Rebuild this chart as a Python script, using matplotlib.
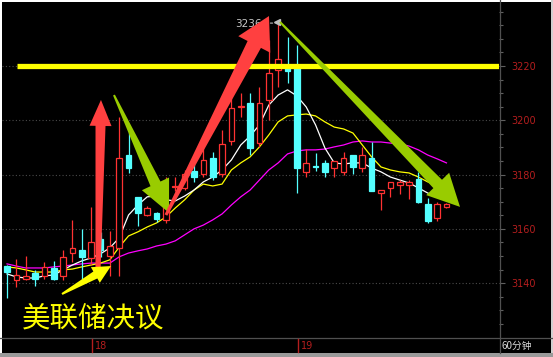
import numpy as np
import matplotlib
matplotlib.use("Agg")
import matplotlib.pyplot as plt
from matplotlib.patches import Polygon, Rectangle
from matplotlib.transforms import IdentityTransform, blended_transform_factory, ScaledTranslation

# ---------------- data ----------------
opens = [3146.3, 3141.2, 3141.5, 3143.8, 3142.6, 3145.6, 3142.6, 3151.1, 3152.2, 3149.3,
         3156.3, 3150.0, 3153.0, 3187.2, 3171.8, 3165.2, 3165.9, 3163.3, 3175.4, 3175.1,
         3181.3, 3180.2, 3186.1, 3180.2, 3192.4, 3205.0, 3206.4, 3191.6, 3207.5, 3218.5,
         3219.3, 3219.3, 3181.0, 3183.2, 3184.3, 3182.4, 3181.0, 3187.2, 3182.4, 3186.1,
         3173.2, 3175.1, 3176.2, 3176.2, 3178.4, 3169.2, 3164.0, 3168.1]
closes = [3144.2, 3143.0, 3142.6, 3141.5, 3146.0, 3141.5, 3149.7, 3153.0, 3149.7, 3155.2,
          3152.2, 3153.7, 3186.1, 3182.4, 3165.9, 3167.7, 3163.7, 3168.8, 3175.8, 3180.2,
          3179.1, 3185.4, 3179.1, 3191.3, 3204.5, 3205.3, 3189.8, 3206.4, 3217.4, 3222.6,
          3218.2, 3182.4, 3184.3, 3182.8, 3181.0, 3185.0, 3186.1, 3182.8, 3187.2, 3173.9,
          3174.3, 3177.3, 3177.3, 3177.3, 3169.9, 3162.9, 3169.2, 3169.2]
highs = [3146.6, 3148.9, 3150.0, 3144.9, 3147.8, 3148.2, 3152.2, 3163.3, 3160.0, 3168.1,
         3158.9, 3159.2, 3201.2, 3195.7, 3171.8, 3168.4, 3166.2, 3179.1, 3179.1, 3181.7,
         3183.9, 3190.2, 3188.3, 3196.4, 3208.6, 3210.1, 3210.1, 3212.3, 3229.6, 3236.2,
         3230.7, 3227.7, 3189.4, 3187.9, 3185.4, 3185.0, 3188.3, 3187.2, 3190.2, 3192.0,
         3174.3, 3177.3, 3178.0, 3178.0, 3181.0, 3171.4, 3169.9, 3169.5]
lows = [3134.5, 3138.6, 3141.2, 3139.0, 3141.5, 3141.2, 3141.2, 3147.8, 3140.4, 3146.7,
        3149.7, 3142.6, 3142.6, 3180.6, 3161.1, 3164.8, 3162.5, 3162.2, 3173.9, 3174.3,
        3177.3, 3179.1, 3178.0, 3179.1, 3190.9, 3201.2, 3187.2, 3190.2, 3200.1, 3212.3,
        3213.7, 3173.2, 3179.1, 3181.3, 3179.1, 3179.1, 3179.9, 3180.2, 3181.0, 3173.9,
        3166.9, 3171.8, 3172.9, 3171.0, 3169.5, 3162.2, 3162.9, 3167.7]

ma_white = [3143.4, 3142.3, 3141.9, 3141.9, 3142.7, 3143.0, 3144.9, 3146.7, 3148.2, 3149.3,
            3150.8, 3153.0, 3156.7, 3165.1, 3168.8, 3171.8, 3172.1, 3170.7, 3170.3, 3172.1,
            3174.3, 3177.3, 3179.1, 3181.7, 3185.4, 3190.9, 3194.2, 3198.3, 3205.6, 3209.3,
            3211.2, 3209.0, 3204.9, 3198.3, 3189.8, 3184.3, 3183.9, 3184.3, 3184.3, 3182.4,
            3181.0, 3179.1, 3178.0, 3176.9, 3175.1, 3173.2, 3171.8, 3170.7]
ma_yellow = [3146.0, 3145.6, 3144.9, 3144.1, 3144.1, 3144.1, 3144.9, 3145.2, 3146.0, 3146.7,
             3147.4, 3148.6, 3153.3, 3157.4, 3158.9, 3160.7, 3162.2, 3164.4, 3167.7, 3170.7,
             3174.3, 3176.5, 3175.8, 3176.5, 3181.7, 3184.3, 3186.5, 3190.2, 3194.6, 3199.4,
             3201.6, 3202.0, 3202.3, 3201.6, 3199.4, 3197.5, 3196.8, 3195.3, 3190.9, 3186.5,
             3182.8, 3181.7, 3181.0, 3180.6, 3179.1, 3177.3, 3175.8, 3175.1]
ma_magenta = [3147.1, 3146.3, 3145.6, 3145.6, 3145.6, 3146.0, 3146.3, 3146.7, 3147.1, 3147.4,
              3147.4, 3147.4, 3149.7, 3151.1, 3151.9, 3152.6, 3153.7, 3154.4, 3155.6, 3157.8,
              3160.0, 3161.4, 3163.3, 3165.5, 3168.8, 3171.8, 3174.3, 3178.0, 3181.7, 3184.3,
              3187.6, 3188.7, 3189.1, 3189.1, 3189.4, 3190.2, 3190.9, 3192.0, 3192.4, 3192.0,
              3192.0, 3191.6, 3191.3, 3190.5, 3189.1, 3187.2, 3185.8, 3184.3]

day_labels = ["18", "19"]
day_index = [9, 31]
y_ticks = [3140, 3160, 3180, 3200, 3220]
resistance = 3220
title_text = "美联储决议"
period_text = "60分钟"

# ---------------- figure ----------------
W, H = 553, 357
fig = plt.figure(figsize=(W / 100, H / 100), dpi=100, facecolor="black")
ax = fig.add_axes([2 / W, (H - 338) / H, 497 / W, 336 / H])
ax.set_facecolor("black")

n = len(opens)
x = np.arange(n)
ax.set_xlim(-0.535, 52.62)
ax.set_ylim(3119.8, 3243.57)

RED = "#ff3232"
CYAN = "#54ffff"

# grid
for yv in y_ticks:
    ax.axhline(yv, color="#4a4a4a", lw=0.8, ls=(0, (1, 2)), zorder=0)

# moving averages
ax.plot(x, ma_magenta, color="#ff00ff", lw=0.9, zorder=4)
ax.plot(x, ma_yellow, color="#ffff00", lw=0.9, zorder=4)
ax.plot(x, ma_white, color="white", lw=0.9, zorder=4)

# candles
bw = 0.6
for i in range(n):
    o, c, hi, lo = opens[i], closes[i], highs[i], lows[i]
    up = c >= o
    col = RED if up else CYAN
    ax.vlines(i, lo, hi, color=col, lw=0.9, zorder=5)
    bot, top = min(o, c), max(o, c)
    hgt = max(top - bot, 0.25)
    ax.add_patch(Rectangle((i - bw / 2, bot), bw, hgt,
                           facecolor="black" if up else CYAN,
                           edgecolor=col, lw=0.9, zorder=6))

# resistance line
ax.plot([1.07, 52.62], [resistance, resistance], color="#ffff00", lw=3.8,
        solid_capstyle="butt", zorder=7)

# peak marker
pk = int(np.argmax(highs))
ax.plot([pk - 0.1], [highs[pk]], marker="<", ms=4, color="#c0c0c0", zorder=8)
ax.annotate(f"{highs[pk]:.0f}", xy=(pk, highs[pk]), xytext=(-16, -2),
            textcoords="offset pixels", ha="right", va="center",
            color="#c8c8c8", fontsize=7.5, zorder=8)
ax.annotate("", xy=(pk - 0.2, highs[pk] - 0.4), xytext=(pk - 1.6, highs[pk] - 0.4),
            arrowprops=dict(arrowstyle="-", color="#c0c0c0", lw=0.8, ls=(0, (2, 2))),
            zorder=8)


def fat_arrow(tail, tip, w_tail, w_neck, head_w, head_len, color, z=10):
    T = ax.transData
    p0 = np.array(T.transform(tail))
    p1 = np.array(T.transform(tip))
    d = p1 - p0
    L = np.hypot(*d)
    u = d / L
    nv = np.array([-u[1], u[0]])
    neck = p1 - u * head_len
    pts = [p0 + nv * w_tail / 2, neck + nv * w_neck / 2, neck + nv * head_w / 2, p1,
           neck - nv * head_w / 2, neck - nv * w_neck / 2, p0 - nv * w_tail / 2]
    ax.add_patch(Polygon(pts, closed=True, transform=IdentityTransform(),
                         facecolor=color, edgecolor="none", zorder=z, clip_on=False))


ARED = "#ff4040"
AGREEN = "#99cc00"
fat_arrow((9.73, 3144.1), (10.05, 3207.5), 5, 10, 22, 26, ARED)
fat_arrow((11.44, 3209.3), (17.33, 3165.9), 2, 11, 30, 32, AGREEN)
fat_arrow((17.0, 3165.1), (28.02, 3238.4), 3, 15, 36, 32, ARED)
fat_arrow((29.2, 3236.2), (48.45, 3168.1), 2, 12, 32, 32, AGREEN)
fat_arrow((5.88, 3136.0), (11.12, 3146.3), 2, 8, 18, 18, "#ffff00")

# big caption
ax.text(1.6, 3127.0, title_text, color="#ffff00", fontsize=20.5,
        family=["Noto Sans CJK SC", "DejaVu Sans"], ha="left", va="center", zorder=11)

# axes styling
for s in ["top", "left", "bottom", "right"]:
    ax.spines[s].set_visible(False)
ax.set_xticks([])
ax.yaxis.tick_right()
ax.set_yticks(y_ticks)
ax.set_yticklabels([str(v) for v in y_ticks])
ax.set_yticks(np.arange(3125, 3245, 5), minor=True)
ax.tick_params(axis="y", which="major", colors="#606060", length=4, width=0.8,
               labelcolor="#b41e1e", labelsize=7, pad=5)
ax.tick_params(axis="y", which="minor", colors="#606060", length=3, width=0.8)

# frame lines (figure level)
fig.add_artist(plt.Line2D([0, 1], [(H - 338) / H] * 2, color="#505050", lw=0.9))
fig.add_artist(plt.Line2D([499.5 / W] * 2, [(H - 353) / H, 1], color="#505050", lw=0.9))

# day separators / labels
bt = blended_transform_factory(ax.transData, fig.transFigure)
shift = ScaledTranslation(3 / 100, 0, fig.dpi_scale_trans)
for lab, idx in zip(day_labels, day_index):
    fig.add_artist(plt.Line2D([idx + 0.1, idx + 0.1], [(H - 339) / H, (H - 352) / H],
                              color="#b41e1e", lw=1.0, transform=bt))
    fig.text(idx + 0.1, (H - 346) / H, lab, transform=bt + shift,
             color="#b41e1e", fontsize=7, ha="left", va="center")

fig.text(502 / W, (H - 346) / H, period_text, color="#d8d8d8", fontsize=7,
         family=["Noto Sans CJK SC", "DejaVu Sans"], ha="left", va="center")

# outer border
fig.add_artist(Rectangle((0, (H - 2) / H), 1, 2 / H, transform=fig.transFigure,
                         facecolor="white", edgecolor="none"))
fig.add_artist(Rectangle((0, 0), 2 / W, 1, transform=fig.transFigure,
                         facecolor="white", edgecolor="none"))
fig.add_artist(Rectangle((551 / W, 0), 2 / W, 1, transform=fig.transFigure,
                         facecolor="#d0d0d0", edgecolor="none"))
fig.add_artist(Rectangle((0, 0), 1, 4 / H, transform=fig.transFigure,
                         facecolor="#9a9a9a", edgecolor="none"))

fig.savefig("out.png", dpi=100, facecolor="black")
